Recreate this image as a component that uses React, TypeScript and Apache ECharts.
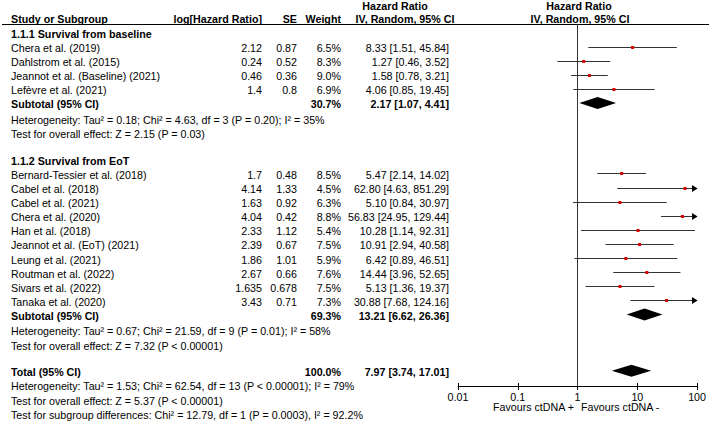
import React, { useEffect, useRef } from "react";
import * as echarts from "echarts";

// ---------- data ----------
const HEADERS = ["Study or Subgroup", "log[Hazard Ratio]", "SE", "Weight"];
const HR_HEADER = ["Hazard Ratio", "IV, Random, 95% CI"];

const G1_TITLE = "1.1.1 Survival from baseline";
const G1_NAMES = [
  "Chera et al. (2019)",
  "Dahlstrom et al. (2015)",
  "Jeannot et al. (Baseline) (2021)",
  "Lefèvre et al. (2021)",
];
const G1_LOGHR = [2.12, 0.24, 0.46, 1.4];
const G1_SE = [0.87, 0.52, 0.36, 0.8];
const G1_WEIGHT = [6.5, 8.3, 9.0, 6.9];
const G1_HR = [8.33, 1.27, 1.58, 4.06];
const G1_LO = [1.51, 0.46, 0.78, 0.85];
const G1_HI = [45.84, 3.52, 3.21, 19.45];
const G1_SUBTOTAL = [30.7, 2.17, 1.07, 4.41]; // weight, hr, lo, hi
const G1_STATS = [
  "Heterogeneity: Tau² = 0.18; Chi² = 4.63, df = 3 (P = 0.20); I² = 35%",
  "Test for overall effect: Z = 2.15 (P = 0.03)",
];

const G2_TITLE = "1.1.2 Survival from EoT";
const G2_NAMES = [
  "Bernard-Tessier et al. (2018)",
  "Cabel et al. (2018)",
  "Cabel et al. (2021)",
  "Chera et al. (2020)",
  "Han et al. (2018)",
  "Jeannot et al. (EoT) (2021)",
  "Leung et al. (2021)",
  "Routman et al. (2022)",
  "Sivars et al. (2022)",
  "Tanaka et al. (2020)",
];
const G2_LOGHR = [1.7, 4.14, 1.63, 4.04, 2.33, 2.39, 1.86, 2.67, 1.635, 3.43];
const G2_SE = [0.48, 1.33, 0.92, 0.42, 1.12, 0.67, 1.01, 0.66, 0.678, 0.71];
const G2_WEIGHT = [8.5, 4.5, 6.3, 8.8, 5.4, 7.5, 5.9, 7.6, 7.5, 7.3];
const G2_HR = [5.47, 62.8, 5.1, 56.83, 10.28, 10.91, 6.42, 14.44, 5.13, 30.88];
const G2_LO = [2.14, 4.63, 0.84, 24.95, 1.14, 2.94, 0.89, 3.96, 1.36, 7.68];
const G2_HI = [14.02, 851.29, 30.97, 129.44, 92.31, 40.58, 46.51, 52.65, 19.37, 124.16];
const G2_SUBTOTAL = [69.3, 13.21, 6.62, 26.36];
const G2_STATS = [
  "Heterogeneity: Tau² = 0.67; Chi² = 21.59, df = 9 (P = 0.01); I² = 58%",
  "Test for overall effect: Z = 7.32 (P < 0.00001)",
];

const TOTAL_LABEL = "Total (95% CI)";
const SUBTOTAL_LABEL = "Subtotal (95% CI)";
const TOTAL = [100.0, 7.97, 3.74, 17.01];
const TOTAL_STATS = [
  "Heterogeneity: Tau² = 1.53; Chi² = 62.54, df = 13 (P < 0.00001); I² = 79%",
  "Test for overall effect: Z = 5.37 (P < 0.00001)",
  "Test for subgroup differences: Chi² = 12.79, df = 1 (P = 0.0003), I² = 92.2%",
];

const TICK_LABELS = ["0.01", "0.1", "1", "10", "100"];
const FAVOURS = ["Favours ctDNA +", "Favours ctDNA -"];

// ---------- layout ----------
const W = 709;
const H = 422;
const FONT = '"Liberation Sans", Arial, Helvetica, sans-serif';
const FS = 10.7;
const ROW0 = 32.4;
const ROWH = 14.1;
const TEXT_DY = 1.5;
const GRID_TOP = 24;
const AXIS_Y = 386;
const PLOT_LEFT = 458;
const PLOT_RIGHT = 698;
const X_MIN = 0.01;
const X_MAX = 100;
const COL_NAME = 11;
const COL_LOG = 262;
const COL_SE = 297;
const COL_W = 341;
const COL_HR = 449;

const fmtCI = (hr: number, lo: number, hi: number) =>
  `${hr.toFixed(2)} [${lo.toFixed(2)}, ${hi.toFixed(2)}]`;

export default function App() {
  const ref = useRef<HTMLDivElement>(null);

  useEffect(() => {
    if (!ref.current) return;
    const chart = echarts.init(ref.current, undefined, { renderer: "svg" });

    const texts: any[] = [];
    const txt = (
      text: string,
      x: number,
      y: number,
      align: string,
      bold = false,
      size = FS
    ) =>
      texts.push({
        type: "text",
        silent: true,
        style: {
          text,
          x,
          y,
          align,
          verticalAlign: "middle",
          fontSize: size,
          fontFamily: FONT,
          fontWeight: bold ? "bold" : "normal",
          fill: "#000",
        },
      });
    const rowY = (k: number) => ROW0 + ROWH * k + TEXT_DY;

    // headers
    const h2 = 18.5;
    const h1 = 6;
    txt(HEADERS[0], COL_NAME, h2, "left", true);
    txt(HEADERS[1], COL_LOG, h2, "right", true);
    txt(HEADERS[2], COL_SE, h2, "right", true);
    txt(HEADERS[3], COL_W, h2, "right", true);
    txt(HR_HEADER[0], 395, h1, "center", true);
    txt(HR_HEADER[1], 405, h2, "center", true);
    txt(HR_HEADER[0], 579, h1, "center", true);
    txt(HR_HEADER[1], 580, h2, "center", true);

    const studyData: any[] = [];
    const diamondData: any[] = [];

    const addGroup = (
      startK: number,
      title: string,
      names: string[],
      logs: number[],
      ses: number[],
      ws: number[],
      hrs: number[],
      los: number[],
      his: number[],
      sub: number[],
      stats: string[]
    ) => {
      let k = startK;
      txt(title, COL_NAME, rowY(k), "left", true);
      k++;
      names.forEach((n, i) => {
        txt(n, COL_NAME, rowY(k), "left");
        txt(String(logs[i]), COL_LOG, rowY(k), "right");
        txt(String(ses[i]), COL_SE, rowY(k), "right");
        txt(ws[i].toFixed(1) + "%", COL_W, rowY(k), "right");
        txt(fmtCI(hrs[i], los[i], his[i]), COL_HR, rowY(k), "right");
        studyData.push([hrs[i], k, los[i], his[i]]);
        k++;
      });
      txt(SUBTOTAL_LABEL, COL_NAME, rowY(k), "left", true);
      txt(sub[0].toFixed(1) + "%", COL_W, rowY(k), "right", true);
      txt(fmtCI(sub[1], sub[2], sub[3]), COL_HR, rowY(k), "right", true);
      diamondData.push([sub[1], k, sub[2], sub[3]]);
      k++;
      stats.forEach((s, i) => txt(s, COL_NAME, rowY(k + i + 0.1), "left"));
      return k + stats.length;
    };

    let k = addGroup(0, G1_TITLE, G1_NAMES, G1_LOGHR, G1_SE, G1_WEIGHT, G1_HR, G1_LO, G1_HI, G1_SUBTOTAL, G1_STATS);
    k = addGroup(k + 1, G2_TITLE, G2_NAMES, G2_LOGHR, G2_SE, G2_WEIGHT, G2_HR, G2_LO, G2_HI, G2_SUBTOTAL, G2_STATS);
    k += 1;
    txt(TOTAL_LABEL, COL_NAME, rowY(k), "left", true);
    txt(TOTAL[0].toFixed(1) + "%", COL_W, rowY(k), "right", true);
    txt(fmtCI(TOTAL[1], TOTAL[2], TOTAL[3]), COL_HR, rowY(k), "right", true);
    diamondData.push([TOTAL[1], k, TOTAL[2], TOTAL[3]]);
    k++;
    TOTAL_STATS.forEach((s, i) => txt(s, COL_NAME, rowY(k + i), "left"));

    // favours labels
    txt(FAVOURS[0], 574, 407, "right");
    txt(FAVOURS[1], 581, 407, "left");

    // header rule
    texts.push({
      type: "line",
      silent: true,
      shape: { x1: 2, y1: 24.5, x2: W, y2: 24.5 },
      style: { stroke: "#000", lineWidth: 1 },
    });

    const kMin = (GRID_TOP - ROW0) / ROWH;
    const kMax = (AXIS_Y - ROW0) / ROWH;

    const xAxisBase = {
      type: "log",
      logBase: 10,
      min: X_MIN,
      max: X_MAX,
      position: "bottom",
      splitLine: { show: false },
      minorTick: { show: false },
    };

    chart.setOption({
      animation: false,
      grid: {
        left: PLOT_LEFT,
        right: W - PLOT_RIGHT,
        top: GRID_TOP,
        bottom: H - AXIS_Y,
        containLabel: false,
      },
      xAxis: [
        {
          ...xAxisBase,
          axisLine: { show: true, onZero: false, lineStyle: { color: "#000", width: 1 } },
          axisTick: { show: true, length: 4, lineStyle: { color: "#000" } },
          axisLabel: {
            show: true,
            margin: 5,
            color: "#000",
            fontSize: FS,
            fontFamily: FONT,
            formatter: (v: number) => TICK_LABELS[Math.round(Math.log10(v)) + 2],
          },
        },
        {
          ...xAxisBase,
          axisLine: { show: false, onZero: false },
          axisTick: { show: true, inside: true, length: 3, lineStyle: { color: "#000" } },
          axisLabel: { show: false },
        },
      ],
      yAxis: {
        type: "value",
        min: kMin,
        max: kMax,
        inverse: true,
        show: false,
      },
      series: [
        {
          type: "custom",
          xAxisIndex: 0,
          silent: true,
          encode: { x: [0, 2, 3], y: 1 },
          data: studyData,
          renderItem: (_p: any, api: any) => {
            const hr = api.value(0);
            const kk = api.value(1);
            const lo = api.value(2);
            const hi = api.value(3);
            const pL = api.coord([Math.max(lo, X_MIN), kk]);
            const pH = api.coord([Math.min(hi, X_MAX), kk]);
            const pC = api.coord([hr, kk]);
            const y = Math.round(pC[1]) + 0.5;
            const clipped = hi > X_MAX;
            const children: any[] = [
              {
                type: "line",
                shape: { x1: pL[0], y1: y, x2: clipped ? pH[0] - 4 : pH[0], y2: y },
                style: { stroke: "#333", lineWidth: 1.2 },
              },
            ];
            if (clipped) {
              children.push({
                type: "polygon",
                shape: {
                  points: [
                    [pH[0] + 0.5, y],
                    [pH[0] - 5, y - 3.5],
                    [pH[0] - 5, y + 3.5],
                  ],
                },
                style: { fill: "#000" },
              });
            }
            children.push({
              type: "rect",
              shape: { x: pC[0] - 1.5, y: y - 1.5, width: 3, height: 3 },
              style: { fill: "#e00000" },
            });
            return { type: "group", children };
          },
        },
        {
          type: "custom",
          xAxisIndex: 0,
          silent: true,
          encode: { x: [0, 2, 3], y: 1 },
          data: diamondData,
          renderItem: (_p: any, api: any) => {
            const hr = api.value(0);
            const kk = api.value(1);
            const pL = api.coord([api.value(2), kk]);
            const pH = api.coord([api.value(3), kk]);
            const pC = api.coord([hr, kk]);
            const y = pC[1];
            return {
              type: "polygon",
              shape: {
                points: [
                  [pL[0], y],
                  [pC[0], y - 6],
                  [pH[0], y],
                  [pC[0], y + 6],
                ],
              },
              style: { fill: "#000" },
            };
          },
          markLine: {
            silent: true,
            symbol: "none",
            label: { show: false },
            lineStyle: { color: "#333", type: "solid", width: 1 },
            data: [{ xAxis: 1 }],
          },
        },
      ],
      graphic: { elements: texts },
    });

    return () => chart.dispose();
  }, []);

  return (
    <div
      ref={ref}
      style={{ position: "absolute", left: 0, top: 0, width: W, height: H, background: "#fff" }}
    />
  );
}
